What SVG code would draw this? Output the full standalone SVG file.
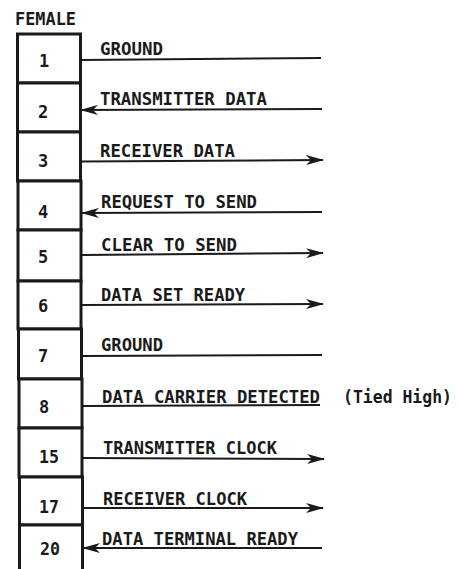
<svg xmlns="http://www.w3.org/2000/svg" width="458" height="569" viewBox="0 0 458 569">
<style>
.cell{fill:#fff;stroke:#1a1a1a;stroke-width:3}
.num{font-family:"DejaVu Sans Mono","Liberation Mono",monospace;font-size:17px;font-weight:bold;fill:#1a1a1a}
.lbl{font-family:"DejaVu Sans Mono","Liberation Mono",monospace;font-size:17px;font-weight:bold;fill:#1a1a1a}
.wire{stroke:#1a1a1a;stroke-width:2;fill:none}
.arr{marker-end:url(#ah)}
</style>
<defs>
<marker id="ah" markerUnits="userSpaceOnUse" markerWidth="18" markerHeight="10" refX="17" refY="5" orient="auto">
<path d="M0,0 L18,5 L0,10 L5,5 z" fill="#1a1a1a"/>
</marker>
</defs>
<rect width="458" height="569" fill="#fff"/>
<text id="title" class="lbl" x="15" y="25" textLength="61" lengthAdjust="spacingAndGlyphs">FEMALE</text>
<g id="pin1"><rect class="cell" x="17.5" y="34" width="63" height="49"/><text class="num" x="39" y="67">1</text></g>
<g id="pin2"><rect class="cell" x="17.5" y="83" width="63" height="49"/><text class="num" x="38" y="118">2</text></g>
<g id="pin3"><rect class="cell" x="17.5" y="132" width="63" height="49"/><text class="num" x="38" y="167">3</text></g>
<g id="pin4"><rect class="cell" x="18" y="181" width="63" height="49"/><text class="num" x="38" y="218">4</text></g>
<g id="pin5"><rect class="cell" x="18" y="230" width="63" height="51"/><text class="num" x="38" y="263">5</text></g>
<g id="pin6"><rect class="cell" x="18" y="281" width="63" height="48"/><text class="num" x="38" y="312">6</text></g>
<g id="pin7"><rect class="cell" x="18.5" y="329" width="63" height="50"/><text class="num" x="38" y="362">7</text></g>
<g id="pin8"><rect class="cell" x="19" y="379" width="63" height="49"/><text class="num" x="39" y="413">8</text></g>
<g id="pin15"><rect class="cell" x="19" y="428" width="63" height="49"/><text class="num" x="39" y="463" textLength="20" lengthAdjust="spacingAndGlyphs">15</text></g>
<g id="pin17"><rect class="cell" x="19.5" y="477" width="63" height="48"/><text class="num" x="39" y="513" textLength="20" lengthAdjust="spacingAndGlyphs">17</text></g>
<g id="pin20"><path class="cell" d="M19.5,571 V525 H82.5 V571"/><text class="num" x="40" y="555" textLength="20" lengthAdjust="spacingAndGlyphs">20</text></g>
<g id="connectors">
<line class="wire" x1="80" y1="60" x2="321" y2="58"/>
<line class="wire arr" x1="322" y1="109" x2="81" y2="110"/>
<line class="wire arr" x1="81" y1="161.5" x2="323" y2="160"/>
<line class="wire arr" x1="322" y1="212" x2="82" y2="213"/>
<line class="wire arr" x1="82" y1="255" x2="323" y2="253"/>
<line class="wire arr" x1="82" y1="305" x2="323" y2="304"/>
<line class="wire" x1="82" y1="356" x2="322" y2="355"/>
<line class="wire" x1="83" y1="406" x2="320" y2="405"/>
<line class="wire arr" x1="83" y1="458" x2="324" y2="459"/>
<line class="wire arr" x1="83" y1="508" x2="323" y2="508"/>
<line class="wire arr" x1="322" y1="548" x2="83" y2="548"/>
<text class="lbl" x="100" y="55" textLength="63" lengthAdjust="spacingAndGlyphs">GROUND</text>
<text class="lbl" x="100" y="105" textLength="167" lengthAdjust="spacingAndGlyphs">TRANSMITTER DATA</text>
<text class="lbl" x="100" y="157" textLength="135" lengthAdjust="spacingAndGlyphs">RECEIVER DATA</text>
<text class="lbl" x="101" y="208" textLength="156" lengthAdjust="spacingAndGlyphs">REQUEST TO SEND</text>
<text class="lbl" x="101" y="251" textLength="136" lengthAdjust="spacingAndGlyphs">CLEAR TO SEND</text>
<text class="lbl" x="101" y="301" textLength="144" lengthAdjust="spacingAndGlyphs">DATA SET READY</text>
<text class="lbl" x="101" y="351" textLength="62" lengthAdjust="spacingAndGlyphs">GROUND</text>
<text class="lbl" x="102" y="403" textLength="218" lengthAdjust="spacingAndGlyphs">DATA CARRIER DETECTED</text>
<text class="lbl" x="343" y="403" textLength="109" lengthAdjust="spacingAndGlyphs">(Tied High)</text>
<text class="lbl" x="103" y="454" textLength="174" lengthAdjust="spacingAndGlyphs">TRANSMITTER CLOCK</text>
<text class="lbl" x="103" y="505" textLength="144" lengthAdjust="spacingAndGlyphs">RECEIVER CLOCK</text>
<text class="lbl" x="102" y="545" textLength="196" lengthAdjust="spacingAndGlyphs">DATA TERMINAL READY</text>
</g>
</svg>
